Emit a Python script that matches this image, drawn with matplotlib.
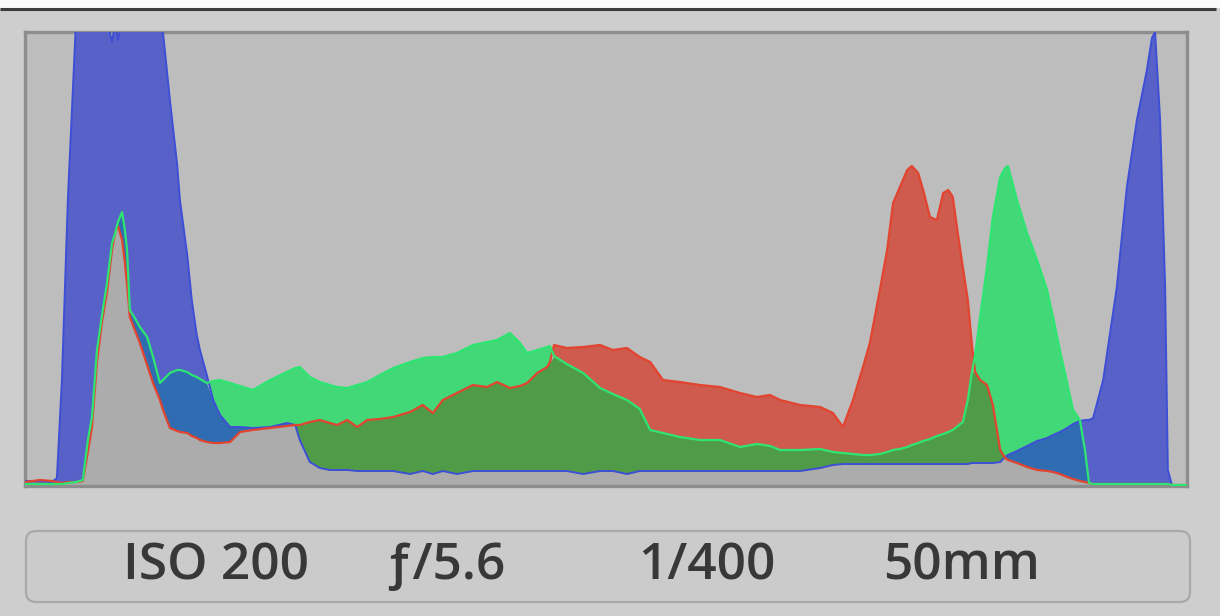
import numpy as np
import matplotlib
matplotlib.use("Agg")
import matplotlib.pyplot as plt
from matplotlib.patches import FancyBboxPatch

# Tone level (0-255) and relative pixel counts per channel (454 = top of histogram)
levels = [0, 3.3, 5.9, 7.0, 8.1, 9.4, 11.2, 12.7, 13.8, 14.7, 15.8, 16.9, 18.0, 19.1, 19.8, 20.4,
          21.3, 21.9, 22.4, 23.0, 24.1, 25.2, 26.8, 28.1, 29.6, 30.3, 31.8, 33.4, 34.0, 35.6,
          36.6, 37.7, 38.4, 39.9, 41.3, 42.8, 45.0, 47.2, 50.0, 53.8, 57.5, 59.3, 60.3, 62.5,
          64.7, 66.9, 68.5, 70.7, 72.9, 75.1, 77.9, 80.8, 84.5, 87.3, 89.5, 91.7, 94.8, 98.3,
          101.4, 103.6, 106.4, 108.6, 110.2, 112.4, 114.6, 115.2, 116.1, 118.9, 122.5, 126.2,
          129.0, 132.1, 134.9, 137.2, 140.0, 143.7, 148.1, 152.5, 156.9, 160.6, 163.5, 165.7,
          170.1, 174.5, 177.3, 179.5, 181.7, 183.9, 185.4, 187.6, 189.2, 190.5, 192.0, 193.6,
          194.6, 196.0, 197.1, 198.6, 200.1, 201.5, 202.6, 203.6, 204.7, 205.8, 206.9, 207.8,
          208.5, 209.6, 211.1, 212.4, 214.0, 215.1, 215.7, 217.7, 219.9, 222.1, 224.3, 225.6,
          227.1, 228.7, 230.0, 231.5, 232.6, 233.5, 234.4, 236.6, 239.6, 241.8, 244.0, 246.2,
          247.3, 248.0, 249.1, 250.2, 250.8, 251.7, 255.0]

red = [4, 6, 5, 4, 3, 4, 4, 5, 34, 59, 124, 164, 194, 236, 254, 260,
       246, 224, 201, 169, 156, 143, 121, 103, 86, 76, 58, 55, 54, 53,
       50, 48, 46, 44, 43, 43, 44, 54, 56, 58, 60, 61, 61, 64,
       66, 63, 61, 66, 59, 66, 67, 69, 74, 81, 73, 86, 93, 101,
       99, 104, 98, 100, 103, 113, 119, 124, 141, 138, 139, 141,
       136, 138, 129, 124, 106, 104, 101, 99, 93, 89, 91, 86,
       81, 79, 73, 59, 86, 119, 143, 196, 236, 283, 299, 316,
       320, 313, 296, 269, 266, 293, 296, 289, 253, 219, 186, 141,
       114, 106, 101, 81, 36, 28, 26, 23, 19, 16, 15, 14,
       12, 9, 7, 5, 4, 3, 2, 2, 2, 2, 2, 2,
       2, 2, 2, 2, 2, 1, 1]

green = [2, 2, 2, 2, 2, 3, 4, 6, 46, 69, 136, 171, 203, 243, 253, 264,
         274, 256, 236, 176, 168, 159, 149, 129, 103, 106, 113, 116, 116, 114,
         111, 109, 107, 103, 105, 106, 103, 100, 96, 106, 114, 118, 119, 109,
         104, 101, 99, 98, 101, 104, 111, 118, 124, 128, 129, 129, 133, 141,
         144, 146, 153, 143, 133, 136, 139, 140, 130, 122, 113, 98,
         92, 86, 77, 56, 53, 49, 46, 46, 39, 42, 40, 36,
         36, 37, 34, 33, 32, 31, 31, 32, 34, 36, 37, 39,
         41, 43, 45, 47, 50, 52, 54, 56, 60, 64, 86, 114,
         131, 169, 219, 269, 309, 318, 320, 286, 253, 226, 196, 169,
         136, 103, 76, 66, 36, 3, 2, 2, 2, 2, 2, 2,
         2, 2, 2, 2, 2, 1, 1]

blue = [5, 5, 4, 8, 106, 286, 466, 466, 466, 466, 466, 466, 466, 444, 464, 446,
        466, 466, 466, 466, 466, 466, 466, 466, 461, 453, 386, 321, 286, 231,
        186, 151, 136, 111, 86, 71, 59, 59, 58, 59, 63, 61, 46, 24,
        18, 16, 16, 16, 15, 15, 15, 15, 12, 15, 12, 15, 12, 15,
        15, 15, 15, 15, 15, 15, 15, 15, 15, 15, 12, 15,
        15, 12, 15, 15, 15, 15, 15, 15, 15, 15, 15, 15,
        15, 18, 21, 22, 22, 22, 22, 22, 22, 22, 22, 22,
        22, 22, 22, 22, 22, 22, 22, 22, 22, 22, 22, 23,
        23, 23, 23, 23, 24, 29, 31, 35, 40, 45, 48, 51,
        54, 58, 62, 65, 66, 66, 68, 106, 199, 299, 366, 416,
        448, 454, 366, 199, 16, 1, 1]

exif_labels = ["ISO 200", "\u0192/5.6", "1/400", "50mm"]

W, H = 1220, 616
fig = plt.figure(figsize=(W / 100, H / 100), dpi=100)
fig.patch.set_facecolor("#cecece")

# overlay in pixel coordinates for the panel chrome
ov = fig.add_axes([0, 0, 1, 1])
ov.set_xlim(0, W)
ov.set_ylim(H, 0)
ov.axis("off")
ov.add_patch(plt.Rectangle((0, 0), W, 8, color="#fafafa", lw=0, zorder=0))
ov.plot([0, 1216], [9, 9], color="#3c3c3c", lw=2.2, zorder=1, solid_capstyle="butt")
ov.add_patch(FancyBboxPatch((26, 531), 1164, 71,
                            boxstyle="round,pad=0,rounding_size=10",
                            facecolor="#cbcbcb", edgecolor="#a9a9a9", lw=1.6, zorder=1))
label_x = [216, 444, 707, 962]
for lx, lab in zip(label_x, exif_labels):
    ov.text(lx, 566, lab, ha="center", va="center", fontsize=37, fontweight="semibold",
            family=["Open Sans", "DejaVu Sans"], color="#383838", zorder=2)

# histogram axes
ax = fig.add_axes([25 / W, 1 - 486 / H, 1162 / W, 454 / H])
ax.set_facecolor("#bdbdbd")
x = np.array(levels, dtype=float)
R = np.array(red, dtype=float)
G = np.array(green, dtype=float)
B = np.array(blue, dtype=float)

cols = {
    "RGB": "#acacac",
    "R": "#cf5a4e",
    "G": "#42d878",
    "B": "#5761c8",
    "RG": "#4f9b47",
    "GB": "#2f6cb2",
    "RB": "#8a5aa0",
}
ch = {"R": R, "G": G, "B": B}

ax.fill_between(x, 0, np.minimum(np.minimum(R, G), B), color=cols["RGB"], lw=0, zorder=1)
for pair, other in (("RG", "B"), ("GB", "R"), ("RB", "G")):
    up = np.minimum(ch[pair[0]], ch[pair[1]])
    lo = ch[other]
    ax.fill_between(x, lo, up, where=up > lo, interpolate=True, color=cols[pair], lw=0, zorder=2)
for c in "RGB":
    others = [k for k in "RGB" if k != c]
    lo = np.maximum(ch[others[0]], ch[others[1]])
    up = ch[c]
    ax.fill_between(x, lo, up, where=up > lo, interpolate=True, color=cols[c], lw=0, zorder=3)

ax.plot(x, B, color="#3e4fd6", lw=1.4, zorder=4)
ax.plot(x, R, color="#e2442f", lw=1.6, zorder=5)
ax.plot(x, G, color="#2ee572", lw=1.6, zorder=6)

ax.set_xlim(0, 255)
ax.set_ylim(0, 454)
ax.set_xticks([])
ax.set_yticks([])
for s in ax.spines.values():
    s.set_color("#8d8d8d")
    s.set_linewidth(2.4)

fig.savefig("out.png", dpi=100, facecolor=fig.get_facecolor())
